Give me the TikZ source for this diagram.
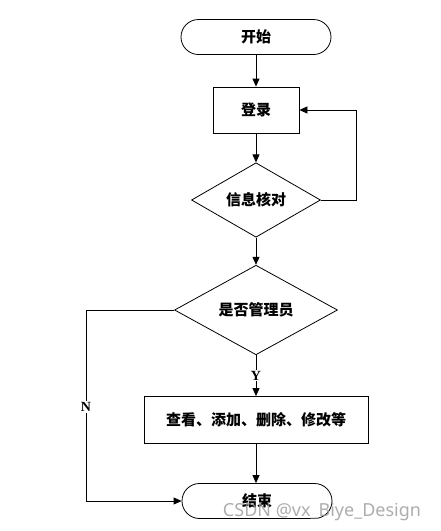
\documentclass[tikz,border=0pt]{standalone}
\usepackage{fontspec}
\setmainfont{Liberation Serif}
\newfontfamily\cjk{Noto Sans CJK SC}
\newfontfamily\wmfont{Noto Sans}
\usepackage{tikz}
\usetikzlibrary{shapes,arrows,positioning,calc,arrows.meta}

\begin{document}
\begin{tikzpicture}[x=1pt, y=-1pt,
    every node/.style={font=\cjk\bfseries\fontsize{15}{18}\selectfont},
    term/.style={draw, line width=0.8pt, rounded corners=17.5pt, minimum width=150pt, minimum height=35pt, inner sep=0pt},
    proc/.style={draw, line width=0.8pt, minimum height=46pt, inner sep=0pt},
    dec/.style={draw, line width=0.8pt, shape=diamond, inner sep=0pt},
    arr/.style={line width=0.8pt, -{Triangle[length=8pt,width=7pt]}},
    lab/.style={fill=white, inner sep=1pt, font=\bfseries\fontsize{14}{16}\selectfont}]
    \useasboundingbox (0,0) rectangle (440,531);

    % Nodes
    \node[term] (start) at (256,37) {开始};
    \node[proc, minimum width=86pt] (login) at (256,110) {登录};
    \node[dec, minimum width=129pt, minimum height=66pt] (check) at (256,200) {信息核对};
    \node[dec, minimum width=163pt, minimum height=86pt] (admin) at (256,310) {是否管理员};
    \node[proc, minimum width=224pt, minimum height=47pt] (ops) at (256,420) {查看、添加、删除、修改等};
    \node[term] (stop) at (257,501) {结束};

    % Connectors
    \draw[arr] (start) -- (login);
    \draw[arr] (login) -- (check);
    \coordinate (fb) at (356,110);
    \draw[arr] (check.east) -| (fb) -- (login.east);
    \draw[arr] (check) -- (admin);
    \draw[arr] (admin) -- node[lab] {Y} (ops);
    \draw[arr] (ops) -- (stop.north -| ops);
    \coordinate (nb) at (86,501);
    \draw[arr] (admin.west) -| (nb) -- (stop.west);
    \node[lab] (nlab) at (86,407) {N};

    % Watermark
    \node[text=gray!80, opacity=0.8, font=\wmfont\fontsize{18}{20}\selectfont] (wm) at (322,512) {CSDN @vx\_Biye\_Design};
\end{tikzpicture}
\end{document}
